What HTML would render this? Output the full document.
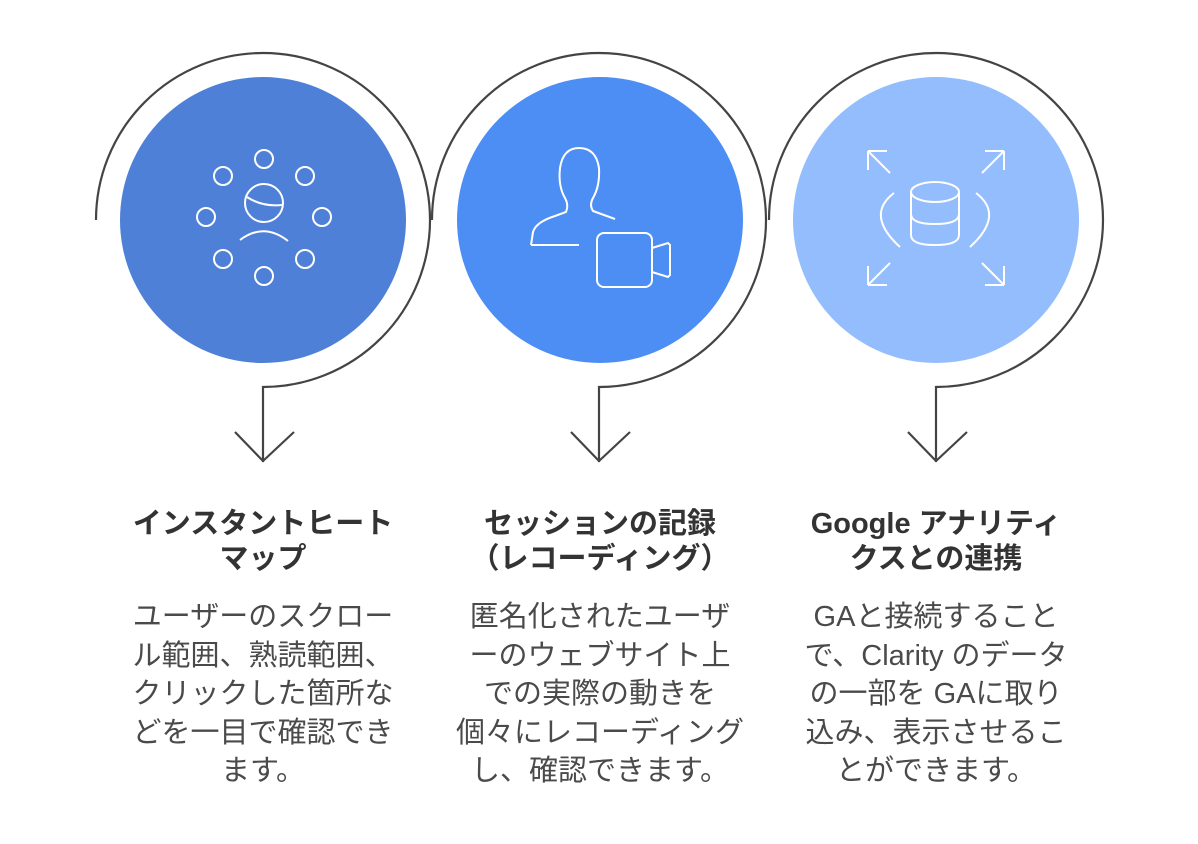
<!DOCTYPE html>
<html><head><meta charset="utf-8"><style>
body{margin:0;background:#fff;width:1198px;height:844px;overflow:hidden;position:relative;font-family:"Liberation Sans","Noto Sans CJK JP",sans-serif}
.t{position:absolute;width:340px;text-align:center;font-weight:bold;font-size:29px;line-height:35px;color:#333;white-space:nowrap}
.b{position:absolute;width:340px;text-align:center;font-size:29px;line-height:38.5px;color:#4a4a4a;white-space:nowrap}
</style></head><body>
<svg width="1198" height="844" style="position:absolute;left:0;top:0" fill="none">
<g stroke="#444" stroke-width="2.2">
<path d="M96 220 A167 167 0 1 1 263 387 L263 462 M235 432 L263 461 L294 432"/>
<path d="M432 220 A167 167 0 1 1 599 387 L599 462 M571 432 L599 461 L630 432"/>
<path d="M769 220 A167 167 0 1 1 936 387 L936 462 M908 432 L936 461 L967 432"/>
</g>
<circle cx="263" cy="220" r="143" fill="#4D80D6"/>
<circle cx="600" cy="220" r="143" fill="#4D8EF5"/>
<circle cx="936" cy="220" r="143" fill="#94BDFD"/>
<g stroke="#fff" stroke-width="2">
<circle cx="264" cy="159" r="9"/><circle cx="223" cy="176" r="9"/><circle cx="305" cy="176" r="9"/>
<circle cx="206" cy="217" r="9"/><circle cx="322" cy="217" r="9"/>
<circle cx="223" cy="259" r="9"/><circle cx="305" cy="259" r="9"/><circle cx="264" cy="276" r="9"/>
<circle cx="264" cy="203" r="19"/><path d="M247 197 Q262 207 282 205"/>
<path d="M240 240 Q264 222 288 241"/>
<path d="M531 245 L533 232 Q536 222 555 216 L566 212 Q569 205 565 198 Q558 186 560 168 Q563 148 579 148 Q596 148 599 168 Q600 186 593 198 Q589 205 593 211 L615 219 M531 245 L579 245"/>
<rect x="597" y="233" width="55" height="54" rx="7"/>
<path d="M652 248 L668 243 L670 245 L670 275 L668 277 L652 272"/>
<path d="M868 151 L890 173 M868 151 L887 151 M868 151 L868 170"/>
<path d="M1004 151 L982 173 M1004 151 L985 151 M1004 151 L1004 170"/>
<path d="M868 285 L890 263 M868 285 L887 285 M868 285 L868 266"/>
<path d="M1004 285 L982 263 M1004 285 L985 285 M1004 285 L1004 266"/>
<ellipse cx="935" cy="192" rx="24" ry="10"/>
<path d="M911 192 L911 235 Q911 245 935 245 Q959 245 959 235 L959 192 M911 214 Q911 224 935 224 Q959 224 959 214"/>
<path d="M894 193 Q865 215 900 247 M976 193 Q1005 215 970 247"/>
</g>
</svg>
<div class="t" style="left:93px;top:507px">インスタントヒート<br>マップ</div>
<div class="t" style="left:430px;top:507px">セッションの記録<br>（レコーディング）</div>
<div class="t" style="left:766px;top:507px">Google アナリティ<br>クスとの連携</div>
<div class="b" style="left:93px;top:598px">ユーザーのスクロー<br>ル範囲、熟読範囲、<br>クリックした箇所な<br>どを一目で確認でき<br>ます。</div>
<div class="b" style="left:430px;top:598px">匿名化されたユーザ<br>ーのウェブサイト上<br>での実際の動きを<br>個々にレコーディング<br>し、確認できます。</div>
<div class="b" style="left:766px;top:598px">GAと接続すること<br>で、Clarity のデータ<br>の一部を GAに取り<br>込み、表示させるこ<br>とができます。</div>
</body></html>
